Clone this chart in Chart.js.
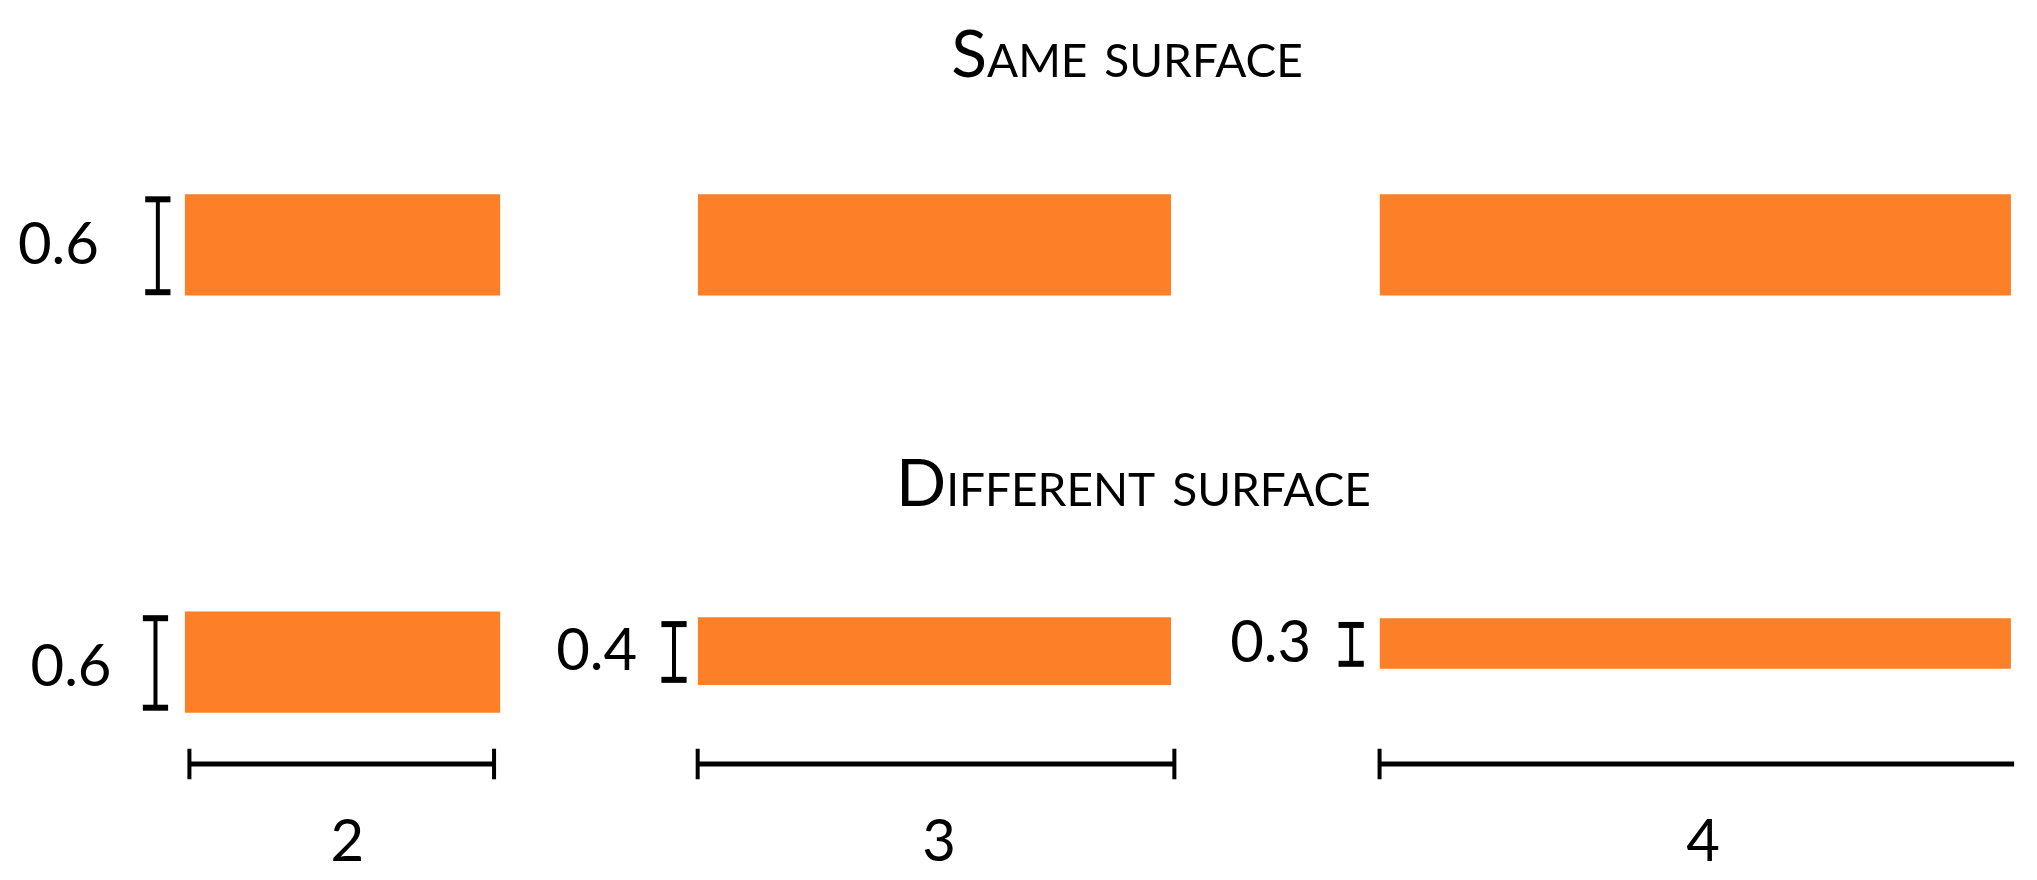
<!DOCTYPE html>
<html><head><meta charset="utf-8">
<script src="https://cdn.jsdelivr.net/npm/chart.js@4/dist/chart.umd.min.js"></script>
<style>html,body{margin:0;padding:0;background:#fff}#w{width:2037px;height:880px}</style>
</head><body><div id="w"><canvas id="c"></canvas></div>
<script>
const widths = [2, 3, 4];
const widthLabels = ['2', '3', '4'];
const heights = [0.6, 0.4, 0.3];
const heightLabels = ['0.6', '0.4', '0.3'];
const titles = ['Same surface', 'Different surface'];

// layout (data units: x per unit width, y per unit height, y grows downward)
const starts = [1.17, 4.42, 8.74];
const topRowTop = 1.15;
const botRowTops = [3.62, 3.655, 3.66];
const ORANGE = '#fd7f28';

const ds = [];
function rect(x0, x1, y0, y1) {
  ds.push({data:[{x:x0,y:y0},{x:x1,y:y0}], fill:{value:y1}, backgroundColor:ORANGE, borderWidth:0, pointRadius:0, showLine:true});
}
function outline(x0, x1, y0, y1) {
  ds.push({data:[{x:x0,y:y0},{x:x1,y:y0},{x:x1,y:y1},{x:x0,y:y1},{x:x0,y:y0}], borderColor:'#fff', borderDash:[5,5], borderWidth:2, pointRadius:0, showLine:true, fill:false});
}
function seg(x0, y0, x1, y1, w) {
  ds.push({data:[{x:x0,y:y0},{x:x1,y:y1}], borderColor:'#000', borderWidth:w, pointRadius:0, showLine:true, fill:false});
}
function vbar(x, y0, y1) { seg(x,y0,x,y1,4); seg(x-0.08,y0,x+0.08,y0,6); seg(x-0.08,y1,x+0.08,y1,6); }

const texts = [];
// top row: same surface (height 0.6)
widths.forEach((w,i) => {
  rect(starts[i], starts[i]+w, topRowTop, topRowTop+heights[0]);
  outline(starts[i], starts[i]+w, topRowTop, topRowTop+heights[0]);
});
vbar(1.0, topRowTop+0.03, topRowTop+heights[0]-0.02);
texts.push({t:heightLabels[0], x:0.37, y:topRowTop+0.3, s:58});
// bottom row
const hbX = [0.985, 4.27, 8.56];
const hbLx = [0.45, 3.78, 8.05];
widths.forEach((w,i) => {
  const y0 = botRowTops[i], y1 = y0 + heights[i];
  rect(starts[i], starts[i]+w, y0, y1);
  vbar(hbX[i], y0+0.04, y1-0.03);
  texts.push({t:heightLabels[i], x:hbLx[i], y:(y0+y1)/2 + (i===0?0.03:0), s:58});
  // width bar
  const by = 4.523;
  const bx0 = starts[i] + (i===0?0.03:0.0), bx1 = starts[i]+w - (i===0?0.04:-0.02);
  seg(bx0, by, bx1, by, 5);
  seg(bx0, by-0.09, bx0, by+0.09, 4);
  if (i < 2) seg(bx1, by-0.09, bx1, by+0.09, 4);
  texts.push({t:widthLabels[i], x:starts[i]+w/2 + (i===2?0.05:0.03), y:4.985, s:58});
});

const textPlugin = {
  id:'txt',
  afterDatasetsDraw(chart) {
    const {ctx, scales:{x, y}} = chart;
    ctx.save();
    ctx.fillStyle = '#000';
    ctx.textAlign = 'center';
    ctx.textBaseline = 'middle';
    texts.forEach(o => {
      ctx.font = o.s + 'px Lato, "Open Sans", sans-serif';
      ctx.fontVariantCaps = 'normal';
      ctx.fillText(o.t, x.getPixelForValue(o.x), y.getPixelForValue(o.y));
    });
    ctx.font = '66px Lato, "Open Sans", sans-serif';
    ctx.fontVariantCaps = 'small-caps';
    ctx.fillText(titles[0], x.getPixelForValue(7.14), y.getPixelForValue(0.33));
    ctx.fillText(titles[1], x.getPixelForValue(7.18), y.getPixelForValue(2.87));
    ctx.restore();
  }
};

new Chart(document.getElementById('c'), {
  type:'scatter',
  data:{datasets:ds},
  options:{
    responsive:true, maintainAspectRatio:false, animation:false,
    layout:{padding:0},
    plugins:{legend:{display:false}, tooltip:{enabled:false}},
    scales:{
      x:{type:'linear', min:0, max:12.905, display:false},
      y:{type:'linear', min:0, max:5.21, reverse:true, display:false}
    }
  },
  plugins:[textPlugin]
});
</script></body></html>
